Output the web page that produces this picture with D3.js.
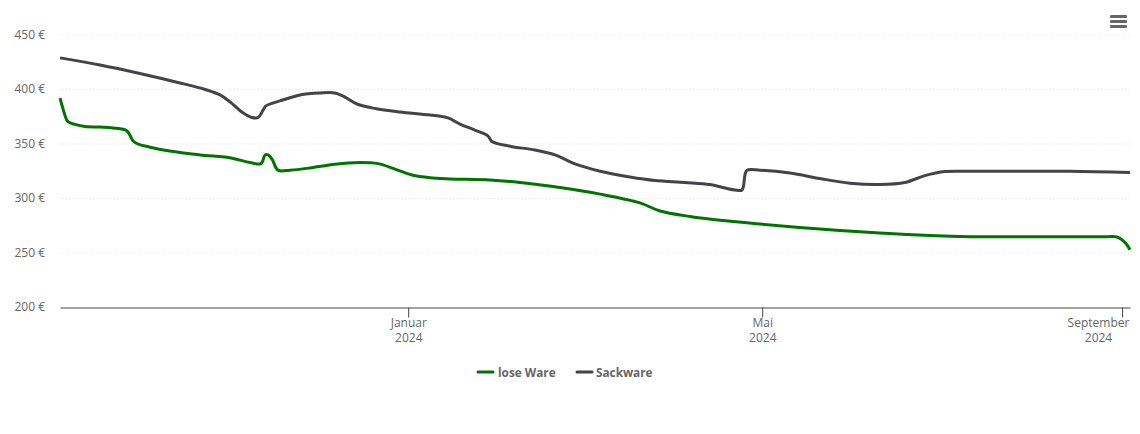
<!DOCTYPE html>
<html>
<head>
<meta charset="utf-8">
<script src="https://cdn.jsdelivr.net/npm/d3@7"></script>
<style>
    html, body { margin: 0; padding: 0; background: #fff; }
    text { font-family: "Open Sans", sans-serif; }
</style>
</head>
<body>
<div id="chart"></div>
<script>
const startDate = new Date(2023, 8, 4)
const endDay = 365.7

// days after startDate, prices in euro
const loseDays = [0, 2.0, 2.7, 5.1, 8.5, 13.7, 18.1, 22.9, 25.3, 30.8, 37.6, 47.8, 58.8, 64.9, 68.7, 70.1, 71.1, 72.5, 74.5, 78.6, 85.4, 94, 102.5, 108.7, 114.5, 120.3, 126.5, 133.3, 147, 157.2, 170.9, 184.6, 198.2, 205.1, 215.3, 225.6, 239.2, 259.7, 280.2, 297.3, 311, 325, 338.3, 350, 358, 360.6, 361.6, 363, 364.5, 365.7]
const loseValues = [392, 374, 370.5, 368, 366, 365.5, 364.7, 362, 352, 347, 343.5, 340, 337, 333, 332, 340, 340, 336, 326, 326, 328, 331.5, 333, 332, 327, 321.5, 319, 318, 317, 314.7, 310, 304, 296, 288.5, 283.5, 280, 276.6, 272, 268.3, 266, 265, 265, 265, 265, 265, 265, 264.4, 262, 258, 253]

const sackDays = [0, 13.7, 27.3, 41, 49.6, 54.7, 58.1, 62.5, 65.6, 67.7, 69.4, 70.4, 75.2, 82, 88.9, 94, 97.4, 101.5, 107.7, 116.2, 126.5, 132.6, 136.7, 141.8, 146.3, 147.6, 153.8, 162.3, 169.2, 176, 184.6, 194.8, 203.3, 213.6, 222.1, 227.3, 230.7, 233.1, 234.1, 234.8, 239.2, 249.5, 259.7, 270, 280.2, 288.8, 295.6, 302.5, 311, 325, 345.2, 365.7]
const sackValues = [429, 422.5, 414.7, 406, 400, 395, 388.6, 378.6, 374.3, 374.3, 381, 385, 389.5, 395, 396.8, 396.8, 393, 386.7, 382.6, 379.4, 376.6, 373.9, 368.3, 362.8, 357.3, 352.3, 348, 344.5, 340, 331.7, 325, 319.7, 316.5, 314.7, 312.8, 309.6, 307.8, 307.8, 321.6, 326, 326, 323.4, 318.3, 314, 312.8, 314.7, 321, 324.7, 325, 325, 325, 323.8]

const yTicks = [200, 250, 300, 350, 400, 450]
const xTickDates = [new Date(2024, 0, 1), new Date(2024, 4, 1), new Date(2024, 8, 1)]
const xTickLabels = [['Januar', '2024'], ['Mai', '2024'], ['September', '2024']]

const seriesNames = ['lose Ware', 'Sackware']
const seriesColors = ['#007400', '#434348']

const w = 1140
const h = 434

const svg = d3.select('#chart').append('svg')
    .attr('width', w)
    .attr('height', h)
    .style('display', 'block')

const toDate = d => new Date(startDate.getTime() + d * 864e5)

const x = d3.scaleTime()
    .domain([startDate, toDate(endDay)])
    .range([60, 1130])
const y = d3.scaleLinear()
    .domain([200, 450])
    .range([307.5, 35])

// grid
svg.append('g').selectAll('line')
    .data(yTicks.slice(1))
    .enter().append('line')
    .attr('x1', 60)
    .attr('x2', 1130)
    .attr('y1', d => y(d))
    .attr('y2', d => y(d))
    .attr('stroke', '#e6e6e6')
    .attr('stroke-width', 1)
    .attr('stroke-dasharray', '1,2')

// y labels
svg.append('g').selectAll('text')
    .data(yTicks)
    .enter().append('text')
    .attr('x', 45)
    .attr('y', d => y(d) + 3.5)
    .attr('text-anchor', 'end')
    .attr('font-size', 12)
    .attr('fill', '#666666')
    .text(d => d + ' €')

// x axis
const xAxis = svg.append('g')
    .attr('transform', 'translate(0,' + y(200) + ')')
    .call(d3.axisBottom(x).tickValues(xTickDates).tickSize(10).tickSizeOuter(0).tickFormat(''))
xAxis.select('.domain').attr('stroke', '#444444').attr('stroke-width', 1)
xAxis.selectAll('.tick line').attr('stroke', '#444444')
xAxis.selectAll('.tick text').remove()

const xLabels = svg.append('g').selectAll('text')
    .data(xTickDates)
    .enter().append('text')
    .attr('text-anchor', 'middle')
    .attr('font-size', 12)
    .attr('fill', '#666666')
    .attr('transform', d => 'translate(' + Math.min(x(d) + 0.6, 1098.5) + ',0)')
xLabels.selectAll('tspan')
    .data((d, i) => xTickLabels[i])
    .enter().append('tspan')
    .attr('x', 0)
    .attr('y', (d, i) => 327 + i * 15)
    .text(d => d)

// lines
const line = d3.line()
    .x(d => x(toDate(d[0])))
    .y(d => y(d[1]))
    .curve(d3.curveCatmullRom.alpha(0.5))

const series = [d3.zip(loseDays, loseValues), d3.zip(sackDays, sackValues)]
svg.append('g').selectAll('path')
    .data(series)
    .enter().append('path')
    .attr('d', line)
    .attr('fill', 'none')
    .attr('stroke', (d, i) => seriesColors[i])
    .attr('stroke-width', 3)
    .attr('stroke-linejoin', 'round')

// legend
const legendX = [478, 577]
const legend = svg.append('g').selectAll('g')
    .data(seriesNames)
    .enter().append('g')
    .attr('transform', (d, i) => 'translate(' + legendX[i] + ',372)')
legend.append('line')
    .attr('x1', 0)
    .attr('x2', 15)
    .attr('stroke', (d, i) => seriesColors[i])
    .attr('stroke-width', 3)
    .attr('stroke-linecap', 'round')
legend.append('text')
    .attr('x', (d, i) => 20 - i)
    .attr('y', 5)
    .attr('font-size', 11.8)
    .attr('font-weight', 'bold')
    .attr('fill', '#666666')
    .text(d => d)

// menu icon
svg.append('g').selectAll('rect')
    .data([0, 1, 2])
    .enter().append('rect')
    .attr('x', 1110)
    .attr('y', d => 15 + d * 5)
    .attr('width', 17)
    .attr('height', 3)
    .attr('rx', 1)
    .attr('fill', '#666666')
</script>
</body>
</html>
